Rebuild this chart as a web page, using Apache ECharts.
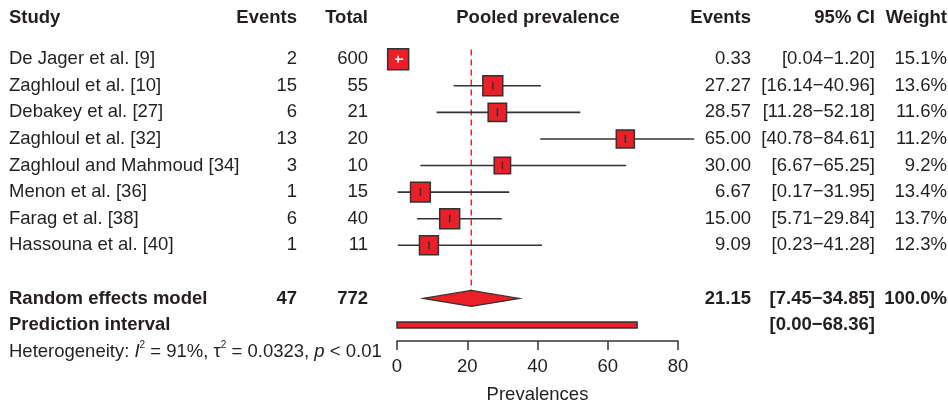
<!DOCTYPE html>
<html><head><meta charset="utf-8">
<script src="https://cdn.jsdelivr.net/npm/echarts@6/dist/echarts.min.js"></script>
<style>html,body{margin:0;padding:0;background:#fff}#c{width:948px;height:405px}</style>
</head><body><div id="c"></div>
<script>
const studies = ['De Jager et al. [9]','Zaghloul et al. [10]','Debakey et al. [27]','Zaghloul et al. [32]','Zaghloul and Mahmoud [34]','Menon et al. [36]','Farag et al. [38]','Hassouna et al. [40]'];
const events = [2,15,6,13,3,1,6,1];
const totals = [600,55,21,20,10,15,40,11];
const prevalence = [0.33,27.27,28.57,65.00,30.00,6.67,15.00,9.09];
const ciLow = [0.04,16.14,11.28,40.78,6.67,0.17,5.71,0.23];
const ciHigh = [1.20,40.96,52.18,84.61,65.25,31.95,29.84,41.28];
const weights = [15.1,13.6,11.6,11.2,9.2,13.4,13.7,12.3];
const pooled = [21.15, 7.45, 34.85];
const predInterval = [0.00, 68.36];
const totalEvents = 47, totalN = 772;
const xTicks = [0,20,40,60,80];

const RED = '#ea1f27', DARK = '#333333', TXT = '#231f20';
const FONT = '"Liberation Sans", Arial, Helvetica, sans-serif';
const FS = 18.5;
const ROW_RE = 9, ROW_PI = 10, ROW_HET = 11, ROW_HEAD = -1.55;
const fmtCI = (a,b) => '[' + a.toFixed(2) + '\u2212' + b.toFixed(2) + ']';

const chart = echarts.init(document.getElementById('c'), null, {renderer:'canvas'});

function txt(x, y, s, align, bold) {
  return {type:'text', style: {x:x, y:y, text:s, textAlign:align, textVerticalAlign:'middle',
    font: (bold?'bold ':'') + FS + 'px ' + FONT, fill: TXT}};
}

const studyRows = studies.map((s,i)=>i);

const option = {
  animation:false,
  grid:{left:397, right:270, top:6, bottom:64, outerBoundsMode:'none', containLabel:false},
  xAxis:{type:'value', min:0, max:80, interval:20, splitLine:{show:false},
    axisLine:{show:true, onZero:false, lineStyle:{color:DARK, width:1.5}},
    axisTick:{show:true, length:9, lineStyle:{color:DARK, width:1.5}},
    axisLabel:{color:TXT, fontSize:FS, fontFamily:FONT, margin:16,
      formatter: v => xTicks.indexOf(v) >= 0 ? String(v) : ''},
    name:'Prevalences', nameLocation:'middle', nameGap:44,
    nameTextStyle:{color:TXT, fontSize:FS, fontFamily:FONT}},
  yAxis:{type:'value', inverse:true, min:-2, max:10.6, show:false},
  series:[
    {type:'custom', data:[[pooled[0]]], z:1,
     renderItem:(p, api)=>{
       const a = api.coord([pooled[0], -0.36]), b = api.coord([pooled[0], ROW_RE - 0.3]);
       return {type:'line', shape:{x1:a[0], y1:a[1], x2:b[0], y2:b[1]},
         style:{stroke:RED, lineWidth:1.4, lineDash:[6,4]}};
     }},
    {type:'custom', data: studyRows.map(i=>[prevalence[i], i, ciLow[i], ciHigh[i], weights[i]]), z:3,
     clip:false,
     renderItem:(p, api)=>{
       const i = api.value(1);
       const c = api.coord([api.value(0), i]);
       const lo = api.coord([api.value(2), i]), hi = api.coord([api.value(3), i]);
       const sz = 5.4*Math.sqrt(api.value(4));
       const inside = lo[0] >= c[0]-sz/2 && hi[0] <= c[0]+sz/2;
       const ch = [
         {type:'line', shape:{x1:lo[0], y1:c[1], x2:hi[0], y2:c[1]}, style:{stroke:DARK, lineWidth:1.6}},
         {type:'rect', shape:{x:c[0]-sz/2, y:c[1]-sz/2, width:sz, height:sz}, style:{fill:RED, stroke:DARK, lineWidth:1.5}}
       ];
       if (inside) {
         ch.push({type:'line', shape:{x1:lo[0]-2, y1:c[1], x2:hi[0]+2, y2:c[1]}, style:{stroke:'#fff', lineWidth:1.5}});
         ch.push({type:'line', shape:{x1:c[0], y1:c[1]-3.5, x2:c[0], y2:c[1]+3.5}, style:{stroke:'#fff', lineWidth:1.5}});
       } else {
         ch.push({type:'line', shape:{x1:c[0], y1:c[1]-4, x2:c[0], y2:c[1]+4}, style:{stroke:DARK, lineWidth:1.5}});
       }
       return {type:'group', children:ch};
     }},
    {type:'custom', data:[[pooled[0], pooled[1], pooled[2], predInterval[0], predInterval[1]]], z:3, clip:false,
     renderItem:(p, api)=>{
       const c = api.coord([api.value(0), ROW_RE]);
       const l = api.coord([api.value(1), ROW_RE]), r = api.coord([api.value(2), ROW_RE]);
       const pl = api.coord([api.value(3), ROW_PI]), pr = api.coord([api.value(4), ROW_PI]);
       return {type:'group', children:[
         {type:'polygon', shape:{points:[[l[0],c[1]],[c[0],c[1]-8],[r[0],c[1]],[c[0],c[1]+8]]},
          style:{fill:RED, stroke:DARK, lineWidth:1.2}},
         {type:'rect', shape:{x:pl[0], y:pl[1]-3, width:pr[0]-pl[0], height:6},
          style:{fill:RED, stroke:DARK, lineWidth:1.5}}
       ]};
     }},
    {type:'custom', data:[[0]], z:5, silent:true,
     renderItem:(p, api)=>{
       const Y = r => api.coord([0, r])[1];
       const ch = [];
       const hy = Y(ROW_HEAD);
       ch.push(txt(9, hy, 'Study', 'left', true));
       ch.push(txt(297, hy, 'Events', 'right', true));
       ch.push(txt(368, hy, 'Total', 'right', true));
       ch.push(txt(538, hy, 'Pooled prevalence', 'center', true));
       ch.push(txt(751, hy, 'Events', 'right', true));
       ch.push(txt(875, hy, '95% CI', 'right', true));
       ch.push(txt(947, hy, 'Weight', 'right', true));
       studies.forEach((s,i)=>{
         const y = Y(i);
         ch.push(txt(9, y, s, 'left', false));
         ch.push(txt(297, y, String(events[i]), 'right', false));
         ch.push(txt(368, y, String(totals[i]), 'right', false));
         ch.push(txt(751, y, prevalence[i].toFixed(2), 'right', false));
         ch.push(txt(875, y, fmtCI(ciLow[i], ciHigh[i]), 'right', false));
         ch.push(txt(947, y, weights[i].toFixed(1) + '%', 'right', false));
       });
       let y = Y(ROW_RE);
       ch.push(txt(9, y, 'Random effects model', 'left', true));
       ch.push(txt(297, y, String(totalEvents), 'right', true));
       ch.push(txt(368, y, String(totalN), 'right', true));
       ch.push(txt(751, y, pooled[0].toFixed(2), 'right', true));
       ch.push(txt(875, y, fmtCI(pooled[1], pooled[2]), 'right', true));
       ch.push(txt(947, y, '100.0%', 'right', true));
       y = Y(ROW_PI);
       ch.push(txt(9, y, 'Prediction interval', 'left', true));
       ch.push(txt(875, y, fmtCI(predInterval[0], predInterval[1]), 'right', true));
       y = Y(ROW_HET);
       ch.push({type:'text', style:{x:9, y:y, textVerticalAlign:'middle', textAlign:'left',
         text:'Heterogeneity: {i|I}{s|2} = 91%, \u03c4{s|2} = 0.0323, {i|p} < 0.01',
         font: FS + 'px ' + FONT, fill:TXT,
         rich:{i:{fontStyle:'italic', fontSize:FS, fontFamily:FONT, fill:TXT},
               s:{fontSize:10, fontFamily:FONT, verticalAlign:'top', padding:[0,0,12,0], fill:TXT}}}});
       return {type:'group', children:ch};
     }}
  ]
};
chart.setOption(option);
</script></body></html>
